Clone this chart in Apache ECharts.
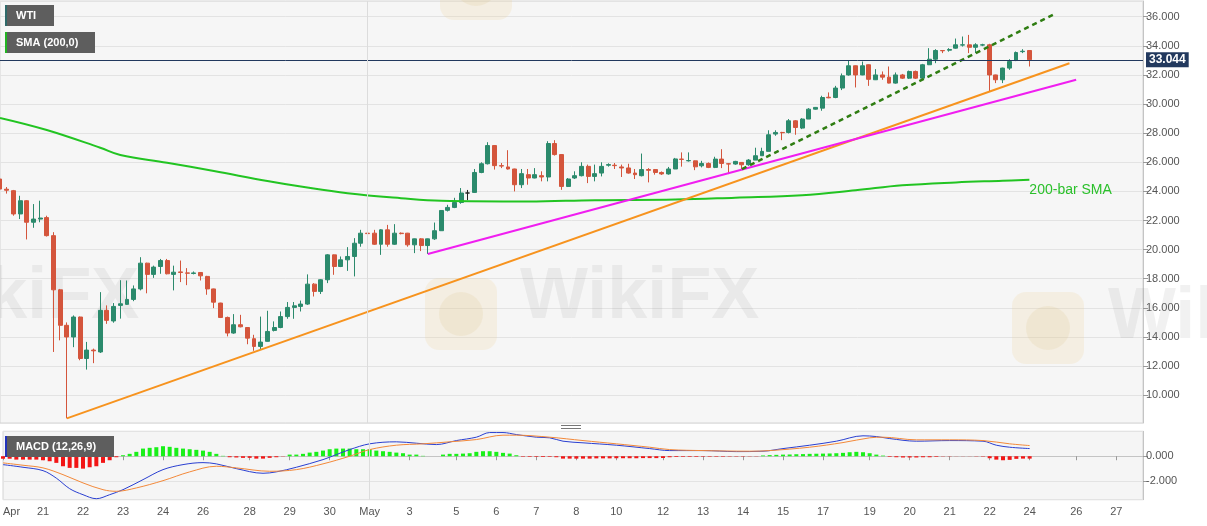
<!DOCTYPE html>
<html><head><meta charset="utf-8">
<script src="https://cdn.jsdelivr.net/npm/echarts@6/dist/echarts.min.js"></script>
<style>html,body{margin:0;padding:0;background:#fff}#c{width:1207px;height:526px}</style>
</head><body><div id="c"></div>
<script>
// ---- tick labels (category slot index -> label)
const xTickIdx  = [0,6,12,18,24,30,37,43,49,55,61,68,74,80,86,92,99,105,111,117,123,130,136,142,148,154,161,167];
const xTickText = ['Apr','21','22','23','24','26','28','29','30','May','3','5','6','7','8','10','12','13','14','15','17','19','20','21','22','24','26','27'];
const slotCount = 172;
const monthLineIdx = 55;
const lastPrice = 33.044;

// ---- WTI 4H candles [open, close, low, high]
const wtiOHLC = [
[24.85,24.16,23.10,24.90],[24.15,24.08,23.85,24.30],[24.05,22.45,22.33,24.10],[22.45,23.36,22.10,23.70],
[23.36,21.88,20.70,23.40],[21.88,22.10,21.50,23.13],[22.10,22.17,21.88,23.36],[22.20,20.96,20.90,22.33],
[20.96,17.24,12.97,21.20],[17.24,14.80,13.77,17.30],[14.80,14.00,8.41,15.00],[14.00,15.37,13.30,15.48],
[15.37,12.52,12.40,15.40],[12.52,13.10,11.76,13.66],[13.10,13.05,12.20,13.20],[12.97,15.83,12.90,17.08],
[15.83,15.14,14.90,16.17],[15.10,16.10,14.98,16.33],[16.17,16.28,15.26,17.90],[16.24,16.58,16.20,17.88],
[16.58,17.30,16.46,17.54],[17.30,19.07,17.20,19.48],[19.07,18.30,17.00,19.10],[18.30,18.80,18.06,18.90],
[18.84,19.25,18.34,19.36],[19.25,18.34,18.30,19.36],[18.30,18.45,17.20,18.90],[18.47,18.43,17.77,19.25],
[18.40,18.38,17.56,18.73],[18.36,18.40,18.30,18.50],[18.43,18.20,17.88,18.45],[18.16,17.30,16.90,18.20],
[17.30,16.39,15.98,17.32],[16.33,15.34,15.30,16.35],[15.34,14.27,14.04,15.40],[14.27,14.84,14.22,15.57],
[14.84,14.70,14.66,15.52],[14.65,13.92,13.50,14.68],[13.88,13.35,13.05,14.15],[13.35,13.65,13.12,15.40],
[13.70,14.38,13.68,15.80],[14.45,14.65,14.38,15.07],[14.65,15.40,14.60,15.75],[15.40,16.03,15.25,16.40],
[16.03,16.14,15.25,16.40],[16.10,16.26,15.75,16.50],[16.26,17.63,16.20,18.30],[17.63,17.13,16.78,17.70],
[17.13,17.93,16.95,17.97],[17.93,19.64,17.70,19.69],[19.64,18.84,18.27,19.66],[18.84,19.30,18.80,19.53],
[19.30,19.53,18.54,20.17],[19.53,20.44,18.16,20.79],[20.44,21.13,20.20,21.36],[21.13,21.10,20.80,21.93],
[21.13,20.37,20.33,21.36],[20.37,21.36,19.64,21.40],[21.36,20.37,20.20,21.70],[20.37,21.13,20.33,21.75],
[21.13,21.10,21.05,21.18],[21.13,20.33,20.20,21.15],[20.33,20.74,19.76,20.76],[20.74,20.28,19.90,20.79],
[20.28,20.74,19.70,20.76],[20.74,21.30,20.67,21.86],[21.30,22.69,21.28,22.72],[22.70,22.90,22.62,23.08],
[22.90,23.24,22.85,23.56],[23.24,23.89,23.15,24.23],[23.89,23.89,23.40,24.10],[23.93,25.30,23.90,25.54],
[25.30,25.90,25.25,26.00],[25.90,27.15,25.85,27.38],[27.15,25.77,25.50,27.17],[25.77,25.74,25.60,25.95],
[25.68,25.54,25.50,26.83],[25.54,24.46,24.00,25.56],[24.46,25.22,24.23,25.54],[25.15,24.92,24.46,25.54],
[24.92,25.15,24.90,25.60],[25.08,24.99,24.69,25.38],[24.99,27.29,24.69,27.45],[27.29,26.53,26.46,27.52],
[26.53,24.34,24.11,26.55],[24.34,24.85,24.30,24.92],[24.92,25.08,24.85,25.38],[25.08,25.72,25.03,26.00],
[25.72,25.03,24.57,25.84],[25.03,25.22,24.69,25.84],[25.26,25.72,25.03,26.00],[25.80,25.84,25.70,25.93],
[25.80,25.77,25.54,25.95],[25.68,25.61,24.99,25.84],[25.61,25.26,25.22,25.90],[25.26,25.15,24.85,25.54],
[25.08,25.50,25.03,26.60],[25.50,25.45,24.62,25.60],[25.50,25.30,25.15,25.54],[25.30,25.20,25.13,25.37],
[25.20,25.54,25.15,25.68],[25.54,26.23,25.54,26.30],[26.22,26.20,25.70,26.68],[26.10,26.12,26.05,26.68],
[26.10,25.69,25.46,26.12],[25.76,25.92,25.65,26.10],[25.92,25.65,25.60,25.99],[25.65,26.22,25.60,26.38],
[26.22,25.92,25.60,26.90],[25.90,25.88,25.19,25.95],[25.88,26.06,25.83,26.10],[25.99,25.83,25.53,26.01],
[25.83,26.15,25.76,26.22],[26.15,26.45,26.15,27.00],[26.45,26.75,26.45,27.00],[26.75,27.89,26.75,28.20],
[27.94,28.05,27.82,28.20],[28.05,28.03,27.52,28.09],[28.05,28.85,27.98,28.97],[28.85,28.39,27.89,28.90],
[28.35,28.97,28.28,29.03],[28.97,29.65,28.97,29.72],[29.65,29.77,29.62,29.80],[29.72,30.45,29.54,30.57],
[30.47,30.43,30.40,30.80],[30.45,31.10,30.40,31.25],[31.10,31.94,30.96,32.10],[32.00,32.63,31.95,33.00],
[32.63,32.00,31.14,32.65],[32.00,32.63,31.98,32.92],[32.70,31.70,31.25,32.72],[31.67,32.00,31.65,32.40],
[32.00,31.85,31.67,32.24],[31.85,31.44,31.42,32.58],[31.44,32.00,31.40,32.17],[32.00,31.78,31.72,32.07],
[31.78,32.24,31.72,32.30],[32.24,31.78,31.72,32.30],[31.78,32.70,31.78,32.76],[32.70,33.08,32.68,33.84],
[33.08,33.68,32.81,33.77],[33.68,33.66,33.50,33.70],[33.70,33.75,33.60,33.84],[33.84,34.07,33.80,34.50],
[34.05,34.07,33.95,34.64],[34.07,33.90,33.50,34.75],[33.90,34.07,33.50,34.18],[34.05,34.07,33.98,34.14],
[34.07,32.00,30.87,34.14],[32.00,31.67,31.44,32.02],[31.67,32.47,31.44,32.50],[32.47,32.92,32.35,33.08],
[32.99,33.54,32.95,33.61],[33.60,33.63,33.50,33.77],[33.68,33.044,32.58,33.70]
];

// ---- 200-bar SMA, read at points [slot, value]
const sma200 = [[0,29.05],[7,28.22],[15,27.0],[18,26.5],[25,25.97],[32,25.4],[40,24.71],[45,24.33],[52,23.87],
  [60,23.53],[66,23.35],[79,23.3],[89,23.4],[101,23.44],[110,23.57],[120,23.74],[128,24.08],[135,24.42],
  [143,24.62],[150,24.73],[154,24.8]];
const smaLabelAt = [154, 24.1];

// ---- trend lines [slot, value]
const orangeTrend = [[10,8.41],[160,32.8]];
const magentaTrend = [[64,19.7],[161,31.67]];
const greenDashTrend = [[111,25.53],[158,36.23]];

// ---- MACD (12,26,9)
const macdLine = [[0,-0.67],[3,-0.88],[6,-1.15],[8,-1.75],[10,-2.59],[12,-3.07],[14,-3.39],[16,-3.07],[18,-2.67],
  [21,-1.87],[24,-1.07],[27,-0.67],[30,-0.51],[32,-0.61],[35,-0.99],[39,-1.36],[41,-1.25],[44,-0.88],[48,-0.27],
  [50,0.13],[52,0.53],[55,0.99],[59,1.15],[62,1.04],[65,0.93],[68,1.25],[71,1.52],[73,1.89],[75,1.89],[77,1.73],
  [80,1.52],[82,1.47],[84,1.2],[87,1.07],[92,0.88],[97,0.61],[100,0.45],[105,0.45],[110,0.37],[114,0.4],
  [117,0.61],[121,0.88],[125,1.2],[129,1.63],[131,1.57],[133,1.41],[137,1.2],[142,1.25],[147,1.2],[149,0.88],
  [151,0.72],[154,0.61]];
const signalLine = [[0,-0.53],[3,-0.72],[6,-0.93],[9,-1.47],[12,-2.13],[15,-2.67],[17,-2.8],[20,-2.53],[24,-1.95],
  [28,-1.25],[32,-0.8],[35,-0.93],[40,-1.2],[44,-1.07],[48,-0.61],[52,0.0],[55,0.53],[59,0.88],[63,0.99],
  [67,1.15],[71,1.33],[75,1.68],[77,1.68],[82,1.52],[87,1.25],[92,0.99],[97,0.72],[100,0.53],[105,0.45],
  [112,0.4],[115,0.45],[121,0.72],[126,1.09],[130,1.47],[132,1.52],[137,1.31],[142,1.31],[147,1.25],
  [151,0.99],[154,0.85]];
const macdHist = [
 -0.2,-0.2,-0.27,-0.27,-0.27,-0.27,-0.32,-0.4,-0.53,-0.8,-0.93,-0.93,-0.99,-0.88,-0.8,-0.53,-0.32,
 -0.08,
 0.08,0.19,0.35,0.61,0.67,0.72,0.8,0.75,0.67,0.61,0.56,0.51,0.45,0.35,0.19,0.03,
 -0.08,-0.1,-0.13,-0.13,-0.19,-0.19,-0.13,-0.08,-0.02,
 0.13,0.13,0.19,0.29,0.35,0.45,0.56,0.61,0.61,0.61,0.56,0.56,0.56,0.45,0.4,0.35,0.29,0.24,0.13,0.13,0.03,0,0,
 0.13,0.19,0.19,0.21,0.24,0.35,0.4,0.4,0.35,0.27,0.21,0.08,
 -0.04,-0.05,-0.05,-0.06,-0.05,-0.08,
 -0.19,-0.19,-0.19,-0.19,-0.19,-0.17,-0.17,-0.17,-0.16,-0.16,-0.16,-0.16,-0.15,-0.15,-0.15,-0.14,
 -0.08,-0.06,-0.05,-0.05,-0.05,-0.04,-0.04,-0.04,-0.04,-0.03,-0.03,-0.03,-0.02,-0.02,
 0.06,0.09,0.11,0.13,0.14,0.16,0.17,0.19,0.2,0.21,0.22,0.24,0.27,0.32,0.35,0.32,0.24,0.13,0.05,
 -0.05,-0.08,-0.1,-0.1,-0.1,-0.08,-0.08,-0.05,
 -0.02,-0.02,-0.01,-0.01,-0.01,-0.02,-0.03,
 -0.16,-0.27,-0.32,-0.29,-0.21,-0.19,-0.19
];

// ---- build
const xCats = Array.from({length: slotCount}, () => '');
xTickIdx.forEach((k, j) => { xCats[k] = xTickText[j]; });

const UP = '#2b8a6c', DOWN = '#d4553c';
const candleData = wtiOHLC.map(r => {
  if (r[0] === r[1]) return {value: r, itemStyle: {color: '#222', borderColor: '#222', color0: '#222', borderColor0: '#222'}};
  return r;
});

const PLOT_RIGHT = 64;
const chart = echarts.init(document.getElementById('c'), null, {renderer: 'canvas'});
const labelFont = {color: '#555', fontSize: 11, fontFamily: 'Liberation Sans, Arial, sans-serif'};

const tag = (x, y, w, stripe, text) => ([
  {type: 'rect', z: 100, shape: {x: x, y: y, width: w, height: 21}, style: {fill: '#5e5e5e'}},
  {type: 'rect', z: 101, shape: {x: x, y: y, width: 2, height: 21}, style: {fill: stripe}},
  {type: 'text', z: 102, x: x + 11, y: y + 11, style: {text: text, fill: '#fff', font: 'bold 11px "Liberation Sans", Arial', verticalAlign: 'middle'}}
]);
const wmText = (x, y) => ({type: 'text', x: x, y: y, z: 1, silent: true,
  style: {text: 'WikiFX', fill: 'rgba(150,150,150,0.13)', font: 'bold 72px "Liberation Sans", Arial'}});
const wmLogo = (x, y) => ([
  {type: 'rect', z: 1, silent: true, shape: {x: x, y: y, width: 72, height: 72, r: 14}, style: {fill: 'rgba(240,212,150,0.2)'}},
  {type: 'circle', z: 1, silent: true, shape: {cx: x + 36, cy: y + 36, r: 22}, style: {fill: 'rgba(220,190,130,0.16)'}}
]);

chart.setOption({
  animation: false,
  backgroundColor: '#ffffff',
  grid: [
    {left: 0, right: PLOT_RIGHT, top: 1, height: 422, show: true, backgroundColor: '#f6f6f6', borderColor: '#d4d4d4', borderWidth: 1},
    {left: 0, right: PLOT_RIGHT, top: 431.3, height: 68.4, show: true, backgroundColor: '#f5f5f5', borderColor: '#d4d4d4', borderWidth: 1}
  ],
  xAxis: [
    {type: 'category', gridIndex: 0, data: xCats, boundaryGap: false,
     axisLine: {show: false}, axisTick: {show: false}, axisLabel: {show: false}, splitLine: {show: false}},
    {type: 'category', gridIndex: 1, data: xCats, boundaryGap: false,
     axisLine: {show: true, lineStyle: {color: '#c4c4c4'}},
     axisTick: {show: true, length: 4, lineStyle: {color: '#999'}, interval: (i, v) => v !== ''},
     axisLabel: Object.assign({interval: 0, margin: 7, alignMinLabel: 'left'}, labelFont),
     splitLine: {show: false}}
  ],
  yAxis: [
    {type: 'value', gridIndex: 0, position: 'right', min: 8.09, max: 37.08, splitNumber: 14,
     axisLine: {show: true, lineStyle: {color: '#c4c4c4'}},
     axisTick: {show: true, length: 5, lineStyle: {color: '#999'}},
     axisLabel: Object.assign({margin: 3, showMinLabel: false, showMaxLabel: false, formatter: v => v.toFixed(3)}, labelFont),
     splitLine: {show: true, lineStyle: {color: '#e3e3e3'}}},
    {type: 'value', gridIndex: 1, position: 'right', min: -3.47, max: 1.99, splitNumber: 3,
     axisLine: {show: true, lineStyle: {color: '#c4c4c4'}},
     axisTick: {show: true, length: 5, lineStyle: {color: '#999'}},
     axisLabel: Object.assign({margin: 3, showMinLabel: false, showMaxLabel: false, formatter: v => v.toFixed(3)}, labelFont),
     splitLine: {show: true, lineStyle: {color: '#e3e3e3'}}}
  ],
  graphic: [].concat(
    [wmText(-100, 262), wmText(520, 262), wmText(1108, 282)],
    wmLogo(425, 278), wmLogo(1012, 292), wmLogo(440, -52),
    tag(5, 5, 49, '#2f6a6a', 'WTI'),
    tag(5, 32, 90, '#22b422', 'SMA (200,0)'),
    tag(5, 436, 109, '#2233bb', 'MACD (12,26,9)'),
    [{type: 'line', z: 50, shape: {x1: 561, y1: 425.5, x2: 581, y2: 425.5}, style: {stroke: '#777', lineWidth: 1}},
     {type: 'line', z: 50, shape: {x1: 561, y1: 428.5, x2: 581, y2: 428.5}, style: {stroke: '#777', lineWidth: 1}}]
  ),
  series: [
    {type: 'candlestick', xAxisIndex: 0, yAxisIndex: 0, data: candleData, barWidth: 4.4,
     itemStyle: {color: UP, color0: DOWN, borderColor: UP, borderColor0: DOWN, borderWidth: 1},
     markLine: {silent: true, symbol: ['none', 'none'], animation: false,
       data: [
         {yAxis: lastPrice, lineStyle: {color: '#22395e', width: 1, type: 'solid'},
          label: {show: true, position: 'end', distance: 3, formatter: lastPrice.toFixed(3),
                  backgroundColor: '#22395e', color: '#fff', fontWeight: 'bold', fontSize: 12,
                  fontFamily: 'Liberation Sans, Arial', padding: [2, 3, 1, 3]}},
         {xAxis: monthLineIdx, lineStyle: {color: '#dcdcdc', width: 1, type: 'solid'}, label: {show: false}}
       ]}},
    {type: 'line', xAxisIndex: 0, yAxisIndex: 0, data: sma200, smooth: 0.4, symbol: 'none',
     lineStyle: {color: '#22c422', width: 2},
     markPoint: {symbol: 'circle', symbolSize: 0, silent: true,
       data: [{coord: smaLabelAt, label: {show: true, position: 'right', distance: 0, formatter: '200-bar SMA',
               color: '#2bc02b', fontSize: 14, fontFamily: 'Liberation Sans, Arial'}}]}},
    {type: 'line', xAxisIndex: 0, yAxisIndex: 0, data: orangeTrend, symbol: 'none', lineStyle: {color: '#f7931e', width: 2}},
    {type: 'line', xAxisIndex: 0, yAxisIndex: 0, data: magentaTrend, symbol: 'none', lineStyle: {color: '#f01ef0', width: 2}},
    {type: 'line', xAxisIndex: 0, yAxisIndex: 0, data: greenDashTrend, symbol: 'none', lineStyle: {color: '#2f7d12', width: 2.5, type: [5, 4]}},
    {type: 'bar', xAxisIndex: 1, yAxisIndex: 1, data: macdHist, barWidth: 4,
     itemStyle: {color: p => p.value >= 0 ? '#19f019' : '#f21515'},
     markLine: {silent: true, symbol: ['none', 'none'], label: {show: false},
       data: [{xAxis: monthLineIdx, lineStyle: {color: '#dcdcdc', width: 1, type: 'solid'}}]}},
    {type: 'line', xAxisIndex: 1, yAxisIndex: 1, data: macdLine, smooth: 0.35, symbol: 'none', lineStyle: {color: '#2a3fd0', width: 1}},
    {type: 'line', xAxisIndex: 1, yAxisIndex: 1, data: signalLine, smooth: 0.35, symbol: 'none', lineStyle: {color: '#f3893a', width: 1}}
  ]
});
</script>
</body></html>
